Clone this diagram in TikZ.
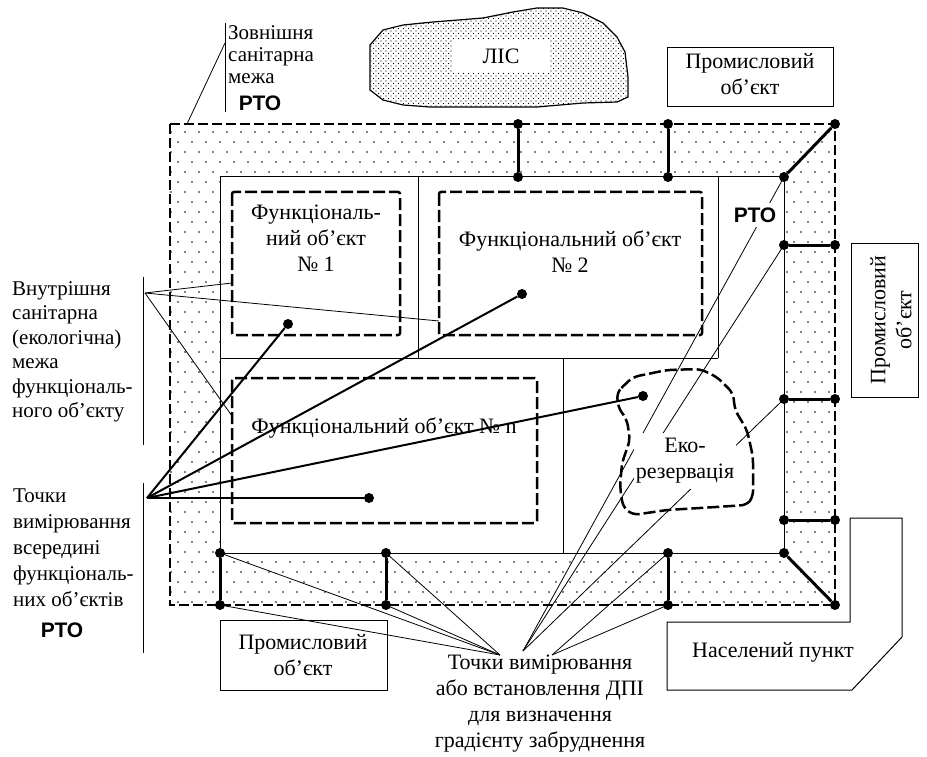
\documentclass[tikz,border=0pt]{standalone}
\usepackage{fontspec}
\setmainfont{Liberation Serif}
\newfontfamily\rtofont{Liberation Sans}
\usetikzlibrary{patterns}
\pgfdeclarepatternformonly{banddots}{\pgfqpoint{-1pt}{-1pt}}{\pgfqpoint{15pt}{21pt}}{\pgfqpoint{14pt}{20pt}}{%
  \pgfpathcircle{\pgfqpoint{3pt}{5pt}}{0.8pt}%
  \pgfpathcircle{\pgfqpoint{10pt}{15pt}}{0.8pt}%
  \pgfusepath{fill}}
\pgfdeclarepatternformonly{forestdots}{\pgfqpoint{-1pt}{-1pt}}{\pgfqpoint{6pt}{6pt}}{\pgfqpoint{5pt}{5pt}}{%
  \pgfpathcircle{\pgfqpoint{1pt}{1pt}}{0.55pt}%
  \pgfpathcircle{\pgfqpoint{3.5pt}{3.5pt}}{0.55pt}%
  \pgfusepath{fill}}
\tikzset{
  lbl/.style={font=\fontsize{22}{26}\selectfont, align=center, inner sep=0pt},
  lblleft/.style={font=\fontsize{21}{24.5}\selectfont, align=left, inner sep=0pt, anchor=west},
  rto/.style={font=\rtofont\bfseries\fontsize{21}{24}\selectfont, inner sep=1pt},
  mdot/.style={circle, fill=black, inner sep=0pt, minimum size=10pt},
  bar/.style={line width=3pt},
  mline/.style={line width=2pt},
  leader/.style={line width=0.8pt},
  solidline/.style={line width=1pt},
  fdash/.style={line width=2.5pt, dash pattern=on 12pt off 4pt, rounded corners=2pt},
  odash/.style={line width=2.5pt, dash pattern=on 10pt off 4pt},
  bx/.style={draw, line width=1pt},
}
\begin{document}
\begin{tikzpicture}[x=1pt,y=-1pt]
\useasboundingbox (0,0) rectangle (927,757);

% ---------- coordinates
\coordinate (O1) at (170,124);
\coordinate (O2) at (835,124);
\coordinate (O3) at (835,605);
\coordinate (O4) at (170,605);
\coordinate (I1) at (220,177);
\coordinate (I2) at (784,177);
\coordinate (I3) at (784,553);
\coordinate (I4) at (220,553);

% ---------- forest
\draw[line width=1.2pt, pattern=forestdots] (370,45) -- (383,30) -- (403,25) -- (433,22) -- (483,18) -- (513,12) -- (537,8) -- (563,8) -- (583,13) -- (603,23) -- (617,37) -- (625,52) -- (628,77) -- (628,97) -- (617,102) -- (583,103) -- (537,107) -- (497,107) -- (450,107) -- (430,107) -- (403,105) -- (383,100) -- (370,90) -- cycle;
\node[lbl, fill=white, minimum width=97pt, minimum height=32pt] (forest) at (501,56) {ЛІС};

% ---------- sanitary band
\fill[pattern=banddots, even odd rule] (O1) rectangle (O3) (I1) rectangle (I3);
\draw[solidline] (I1) rectangle (I3);

% cell dividers
\coordinate (v1t) at (418,177); \coordinate (v1b) at (418,358);
\coordinate (v2t) at (718,177); \coordinate (v2b) at (718,358);
\coordinate (hL) at (220,358);
\coordinate (v3t) at (563,358); \coordinate (v3b) at (563,553);
\draw[solidline] (v1t) -- (v1b);
\draw[solidline] (v2t) -- (v2b);
\draw[solidline] (hL) -- (v2b);
\draw[solidline] (v3t) -- (v3b);

% functional objects
\draw[fdash] (232,192) rectangle (400,335);
\draw[fdash] (439,192) rectangle (702,335);
\draw[fdash] (232,378) rectangle (537,523);
\node[lbl] (f1) at (316,238) {Функціональ-\\ний об’єкт\\№ 1};
\node[lbl] (f2) at (570,252) {Функціональний об’єкт\\№ 2};
\node[lbl] (fn) at (384,428) {Функціональний об’єкт № n};

% ---------- measurement dots (bars)
\node[mdot] (pT1a) at (518,124) {}; \node[mdot] (pT1b) at (518,177) {};
\node[mdot] (pT2a) at (668,124) {}; \node[mdot] (pT2b) at (668,177) {};
\node[mdot] (pTRa) at (835,124) {}; \node[mdot] (pTRb) at (784,177) {};
\node[mdot] (pR1a) at (784,245) {}; \node[mdot] (pR1b) at (835,245) {};
\node[mdot] (pR2a) at (784,399) {}; \node[mdot] (pR2b) at (835,399) {};
\node[mdot] (pR3a) at (784,520) {}; \node[mdot] (pR3b) at (835,520) {};
\node[mdot] (pBRa) at (784,553) {}; \node[mdot] (pBRb) at (835,605) {};
\node[mdot] (pB1a) at (668,553) {}; \node[mdot] (pB1b) at (668,605) {};
\node[mdot] (pB2a) at (386,553) {}; \node[mdot] (pB2b) at (386,605) {};
\node[mdot] (pB3a) at (220,553) {}; \node[mdot] (pB3b) at (220,605) {};

% inner measurement points
\node[mdot] (q1) at (288,324) {};
\node[mdot] (q2) at (522,294) {};
\node[mdot] (q3) at (643,396) {};
\node[mdot] (qn) at (369,498) {};

% ---------- leaders to bottom label
\coordinate (B1) at (500,655);
\coordinate (B2) at (523,651);
\coordinate (B3) at (552,655);
\draw[leader] (pB3a.center) -- (B1);
\draw[leader] (pB3b.center) -- (B1);
\draw[leader] (pB2a.center) -- (B1);
\draw[leader] (pB2b.center) -- (B1);
\draw[leader] (pTRb.center) -- (B2);
\draw[leader] (pR1a.center) -- (B2);
\draw[leader] (pR2a.center) -- (B2);
\draw[leader] (pB1a.center) -- (B3);
\draw[leader] (pB1b.center) -- (B3);

% ---------- leaders from left labels
\coordinate (IL) at (145,293);
\coordinate (e1) at (232,283);
\coordinate (e2) at (439,321);
\coordinate (e3) at (232,416);
\draw[leader] (IL) -- (e1);
\draw[leader] (IL) -- (e2);
\draw[leader] (IL) -- (e3);

\coordinate (PL) at (147,498);
\draw[mline] (PL) -- (q1);
\draw[mline] (PL) -- (q2);
\draw[mline] (PL) -- (q3);
\draw[mline] (PL) -- (qn);

\coordinate (OL) at (225,43);
\coordinate (OE) at (187,124);
\draw[leader] (OL) -- (OE);

% white labels over leaders
\node[rto, fill=white, inner ysep=5pt] (rto2) at (755,215) {РТО};
\node[lbl, fill=white, inner xsep=2pt, inner ysep=5pt] (eco) at (685,461) {Еко-\\резервація};

% eco reservation outline
\draw[fdash, rounded corners=6pt] (617,392) -- (633,377) -- (667,370) -- (700,369) -- (717,377) -- (733,393) -- (735,410) -- (747,430) -- (753,457) -- (753,497) -- (747,505) -- (700,508) -- (667,510) -- (633,515) -- (623,507) -- (620,487) -- (622,463) -- (630,440) -- (627,420) -- (618,407) -- cycle;

% ---------- outer boundary
\draw[odash] (O1) rectangle (O3);

% bars
\draw[bar] (pT1a) -- (pT1b);
\draw[bar] (pT2a) -- (pT2b);
\draw[bar] (pTRa) -- (pTRb);
\draw[bar] (pR1a) -- (pR1b);
\draw[bar] (pR2a) -- (pR2b);
\draw[bar] (pR3a) -- (pR3b);
\draw[bar] (pBRa) -- (pBRb);
\draw[bar] (pB1a) -- (pB1b);
\draw[bar] (pB2a) -- (pB2b);
\draw[bar] (pB3a) -- (pB3b);

% ---------- surrounding objects
\draw[bx] (667,48) rectangle (833,107);
\node[lbl] (ind1) at (750,74) {Промисловий\\об’єкт};
\draw[bx] (851,243) rectangle (918,397);
\node[lbl, rotate=90] (ind2) at (891,320) {Промисловий\\об’єкт};
\draw[bx] (220,620) rectangle (387,690);
\node[lbl] (ind3) at (303,655) {Промисловий\\об’єкт};
\draw[line width=1pt] (850,518) -- (902,518) -- (902,637) -- (852,690) -- (667,690) -- (667,622) -- (850,622) -- cycle;
\node[lbl] (town) at (773,652) {Населений пункт};

% ---------- labels
\coordinate (bz1) at (225,23); \coordinate (bz2) at (225,112);
\draw[solidline] (bz1) -- (bz2);
\node[lblleft, font=\fontsize{21}{22}\selectfont] (outerlbl) at (228,55) {Зовнішня\\санітарна\\межа};
\node[rto] (rto1) at (260,103) {РТО};

\coordinate (bi1) at (143,277); \coordinate (bi2) at (143,445);
\draw[solidline] (bi1) -- (bi2);
\node[lblleft] (innerlbl) at (12,352) {Внутрішня\\санітарна\\(екологічна)\\межа\\функціональ-\\ного об’єкту};

\coordinate (bp1) at (143,483); \coordinate (bp2) at (143,653);
\draw[solidline] (bp1) -- (bp2);
\node[lblleft, font=\fontsize{21}{26}\selectfont] (ptslbl) at (13,548) {Точки\\вимірювання\\всередині\\функціональ-\\них об’єктів};
\node[rto] (rto3) at (62,630) {РТО};

\node[lbl] (botlbl) at (540,704) {Точки вимірювання\\або встановлення ДПІ\\для визначення\\градієнту забруднення};
\end{tikzpicture}
\end{document}
